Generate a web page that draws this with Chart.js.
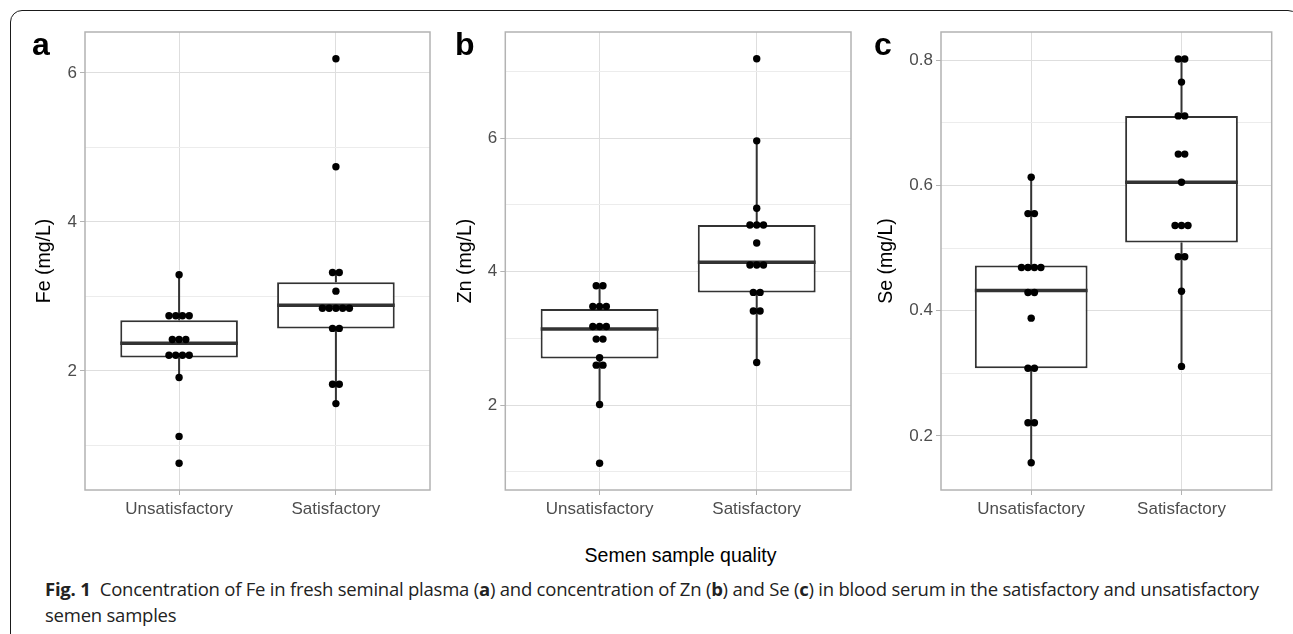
<!DOCTYPE html>
<html>
<head>
<meta charset="utf-8">
<script src="https://cdn.jsdelivr.net/npm/chart.js@4.4.1/dist/chart.umd.min.js"></script>
<style>
html,body{margin:0;padding:0;background:#fff;}
body{width:1293px;height:634px;position:relative;overflow:hidden;font-family:"Liberation Sans",Arial,sans-serif;}
#frame{position:absolute;left:10px;top:10px;width:1290px;height:640px;border:1.5px solid #1a1a1a;border-radius:12px;box-sizing:border-box;}
canvas{position:absolute;top:0;}
.lbl{position:absolute;top:28px;font-weight:bold;font-size:32px;line-height:32px;color:#000;}
#xtitle{position:absolute;left:0;width:1361px;top:545px;text-align:center;font-size:19.5px;line-height:20px;color:#000;}
#cap{position:absolute;left:45px;top:576px;font-family:"Open Sans","Noto Sans",sans-serif;font-size:18.5px;line-height:26px;color:#222;white-space:nowrap;}
</style>
</head>
<body>
<div id="frame"></div>
<canvas id="ca" width="435" height="540" style="left:0px"></canvas>
<canvas id="cb" width="420" height="540" style="left:435px"></canvas>
<canvas id="cc" width="438" height="540" style="left:855px"></canvas>
<div class="lbl" style="left:32px">a</div>
<div class="lbl" style="left:455px">b</div>
<div class="lbl" style="left:874px">c</div>
<div id="xtitle">Semen sample quality</div>
<div id="cap"><span id="line1"><b>Fig. 1</b>&nbsp; Concentration of Fe in fresh seminal plasma (<b>a</b>) and concentration of Zn (<b>b</b>) and Se (<b>c</b>) in blood serum in the satisfactory and unsatisfactory</span><br>semen samples</div>
<script>
// ---------- data ----------
const categories = ['Unsatisfactory', 'Satisfactory'];

// Fe (mg/L) — panel a
const feUnsatPoints = [3.29, 2.74, 2.74, 2.74, 2.74, 2.42, 2.42, 2.42, 2.21, 2.21, 2.21, 2.21, 1.91, 1.12, 0.76];
const feSatPoints   = [6.19, 4.74, 3.32, 3.32, 3.07, 2.84, 2.84, 2.84, 2.84, 2.84, 2.57, 2.57, 1.82, 1.82, 1.56];
// [lower whisker, Q1, median, Q3, upper whisker]
const feUnsatBox = [1.91, 2.18, 2.37, 2.68, 3.29];
const feSatBox   = [1.56, 2.57, 2.88, 3.19, 3.32];
const feMajorTicks = [2, 4, 6];
const feMajorLabels = ['2', '4', '6'];
const feMinorTicks = [1, 3, 5];
const feRange = [0.40, 6.55];

// Zn (mg/L) — panel b
const znUnsatPoints = [3.79, 3.79, 3.48, 3.48, 3.48, 3.18, 3.18, 3.18, 2.99, 2.99, 2.71, 2.60, 2.60, 2.01, 1.13];
const znSatPoints   = [7.19, 5.96, 4.95, 4.70, 4.70, 4.70, 4.43, 4.10, 4.10, 4.10, 3.69, 3.69, 3.41, 3.41, 2.64];
const znUnsatBox = [2.01, 2.70, 3.14, 3.44, 3.79];
const znSatBox   = [2.64, 3.69, 4.14, 4.70, 5.96];
const znMajorTicks = [2, 4, 6];
const znMajorLabels = ['2', '4', '6'];
const znMinorTicks = [1, 3, 5, 7];
const znRange = [0.73, 7.59];

// Se (mg/L) — panel c
const seUnsatPoints = [0.613, 0.555, 0.555, 0.469, 0.469, 0.469, 0.469, 0.429, 0.429, 0.388, 0.308, 0.308, 0.221, 0.221, 0.157];
const seSatPoints   = [0.802, 0.802, 0.765, 0.711, 0.711, 0.650, 0.650, 0.605, 0.536, 0.536, 0.536, 0.486, 0.486, 0.431, 0.311];
const seUnsatBox = [0.157, 0.308, 0.432, 0.472, 0.613];
const seSatBox   = [0.311, 0.509, 0.605, 0.711, 0.802];
const seMajorTicks = [0.2, 0.4, 0.6, 0.8];
const seMajorLabels = ['0.2', '0.4', '0.6', '0.8'];
const seMinorTicks = [0.3, 0.5, 0.7];
const seRange = [0.1136, 0.845];

// ---------- styling / layout constants ----------
const FONT = '"Liberation Sans", Arial, sans-serif';
const BOX_HALF = 0.375;   // half box width in category units
const DOT_STEP = 0.043;   // dot-plot horizontal spacing in category units
const INK = '#333333';

function dotData(values, xc) {
  const counts = {};
  values.forEach(v => { counts[v] = (counts[v] || 0) + 1; });
  const seen = {};
  return values.map(v => {
    const n = counts[v];
    const i = seen[v] = (seen[v] === undefined ? 0 : seen[v] + 1);
    return { x: xc + (i - (n - 1) / 2) * DOT_STEP, y: v };
  });
}

const panelBorder = {
  id: 'panelBorder',
  afterDatasetsDraw(chart) {
    const { ctx, chartArea: a } = chart;
    ctx.save();
    ctx.strokeStyle = '#b3b3b3';
    ctx.lineWidth = 1.5;
    ctx.strokeRect(a.left, a.top, a.right - a.left, a.bottom - a.top);
    ctx.restore();
  }
};

function makePanel(id, p) {
  const boxes = [p.unsatBox, p.satBox];
  const whiskers = [], medians = [];
  boxes.forEach((b, i) => {
    const xc = i + 1;
    whiskers.push({ x: xc, y: b[0] }, { x: xc, y: b[1] }, { x: xc, y: null },
                  { x: xc, y: b[3] }, { x: xc, y: b[4] }, { x: xc, y: null });
    medians.push({ x: xc - BOX_HALF, y: b[2] }, { x: xc + BOX_HALF, y: b[2] }, { x: xc + 0.5, y: null });
  });
  const dots = dotData(p.unsatPoints, 1).concat(dotData(p.satPoints, 2));
  const allTicks = p.minor.concat(p.major).sort((a, b) => a - b);
  const isMajor = v => p.major.includes(v);

  new Chart(document.getElementById(id), {
    type: 'scatter',
    data: {
      datasets: [
        { type: 'line', data: whiskers, borderColor: INK, borderWidth: 2, pointRadius: 0, fill: false, spanGaps: false, order: 4 },
        { type: 'bar', data: boxes.map((b, i) => ({ x: i + 1, y: [b[1], b[3]] })),
          backgroundColor: '#ffffff', borderColor: INK, borderWidth: 2, borderSkipped: false,
          categoryPercentage: 2 * BOX_HALF, barPercentage: 1, order: 3 },
        { type: 'line', data: medians, borderColor: INK, borderWidth: 3.5, pointRadius: 0, fill: false, spanGaps: false, order: 2 },
        { type: 'scatter', data: dots, pointRadius: 3.7, backgroundColor: '#000', borderWidth: 0, pointHoverRadius: 3.7, order: 1 }
      ]
    },
    options: {
      responsive: false,
      devicePixelRatio: 1,
      animation: false,
      events: [],
      layout: { padding: { left: p.padLeft, right: p.padRight, top: 32, bottom: 0 } },
      plugins: { legend: { display: false }, tooltip: { enabled: false } },
      scales: {
        x: {
          type: 'linear', min: 0.4, max: 2.6, offset: false,
          afterBuildTicks: s => { s.ticks = categories.map((c, i) => ({ value: i + 1 })); },
          afterFit: s => { s.height = 50; },
          ticks: { callback: v => categories[Math.round(v) - 1], color: '#4d4d4d', font: { family: FONT, size: 17 }, padding: 4, maxRotation: 0, autoSkip: false },
          grid: { offset: false, color: '#dedede', lineWidth: 1, tickColor: '#b3b3b3', tickLength: 5, tickWidth: 1 },
          border: { display: false }
        },
        y: {
          type: 'linear', min: p.range[0], max: p.range[1],
          afterBuildTicks: s => { s.ticks = allTicks.map(v => ({ value: v })); },
          afterFit: s => { s.width = p.yWidth; },
          ticks: {
            callback: v => { const k = p.major.indexOf(v); return k >= 0 ? p.labels[k] : ''; },
            color: '#4d4d4d', font: { family: FONT, size: 17 }, padding: 3, autoSkip: false
          },
          grid: {
            color: c => (c.tick && isMajor(c.tick.value)) ? '#dedede' : '#ececec',
            lineWidth: 1,
            tickColor: c => (c.tick && isMajor(c.tick.value)) ? '#b3b3b3' : 'rgba(0,0,0,0)',
            tickLength: 5, tickWidth: 1
          },
          border: { display: false },
          title: { display: true, text: p.title, color: '#000', font: { family: FONT, size: 19.5 }, padding: { top: 0, bottom: 0 } }
        }
      }
    },
    plugins: [panelBorder]
  });
}

makePanel('ca', { unsatPoints: feUnsatPoints, satPoints: feSatPoints, unsatBox: feUnsatBox, satBox: feSatBox,
  major: feMajorTicks, labels: feMajorLabels, minor: feMinorTicks, range: feRange, title: 'Fe (mg/L)',
  padLeft: 33.3, yWidth: 51.7, padRight: 5 });
makePanel('cb', { unsatPoints: znUnsatPoints, satPoints: znSatPoints, unsatBox: znUnsatBox, satBox: znSatBox,
  major: znMajorTicks, labels: znMajorLabels, minor: znMinorTicks, range: znRange, title: 'Zn (mg/L)',
  padLeft: 18.8, yWidth: 51.5, padRight: 4 });
makePanel('cc', { unsatPoints: seUnsatPoints, satPoints: seSatPoints, unsatBox: seUnsatBox, satBox: seSatBox,
  major: seMajorTicks, labels: seMajorLabels, minor: seMinorTicks, range: seRange, title: 'Se (mg/L)',
  padLeft: 19.8, yWidth: 66.2, padRight: 21.3 });

// fit caption line width to the reference
(function () {
  const cap = document.getElementById('cap');
  const line = document.getElementById('line1');
  const target = 1259 - 45;
  const w = line.getBoundingClientRect().width;
  const n = line.textContent.length;
  cap.style.letterSpacing = ((target - w) / n).toFixed(3) + 'px';
})();
</script>
</body>
</html>
